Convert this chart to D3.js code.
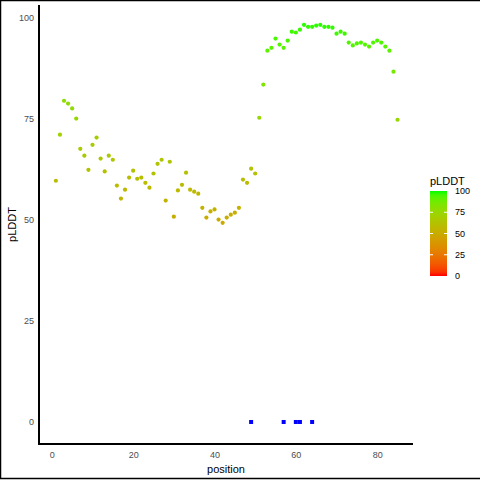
<!DOCTYPE html>
<html>
<head>
<meta charset="utf-8">
<script src="https://cdn.jsdelivr.net/npm/d3@7"></script>
<style>
  body { margin: 0; background: #fff; }
  text { font-family: "Liberation Sans", Arial, sans-serif; }
</style>
</head>
<body>
<div id="graph"></div>
<script>
// pLDDT per residue position (1..85)
var plddt = [
  59.7, 71.1, 79.5, 78.8, 77.6, 75.1, 67.6, 65.9, 62.4, 68.6,
  70.4, 65.2, 62.0, 65.9, 64.9, 58.5, 55.3, 57.5, 60.5, 62.2,
  60.2, 60.5, 59.2, 58.0, 61.5, 63.9, 64.9, 54.8, 64.4, 50.8,
  57.3, 58.7, 61.7, 57.5, 57.0, 56.5, 53.0, 50.6, 52.1, 52.6,
  50.1, 49.3, 50.6, 51.3, 51.8, 53.0, 60.0, 59.2, 62.7, 61.5,
  75.3, 83.5, 91.9, 92.6, 94.9, 93.4, 92.6, 94.4, 96.6, 96.4,
  97.1, 98.3, 97.8, 97.8, 98.1, 98.3, 97.8, 97.8, 97.6, 96.1,
  96.6, 96.1, 93.9, 93.2, 93.7, 93.9, 93.4, 92.9, 93.9, 94.4,
  93.9, 92.9, 91.9, 86.7, 74.8
];
// marked positions drawn as blue squares at 0
var marked = [49, 57, 60, 61, 64];

var xTicks = [0, 20, 40, 60, 80];
var yTicks = [0, 25, 50, 75, 100];
var legendTicks = [0, 25, 50, 75, 100];

var W = 480, H = 480;
var panel = {left: 39, right: 413, top: 5, bottom: 444};

var dataset = plddt.map(function(v, i) { return {pos: i + 1, val: v}; });

var xScale = d3.scaleLinear().domain([-3.15, 88.8]).range([panel.left, panel.right]);
var yScale = d3.scaleLinear().domain([-5.45, 103.2]).range([panel.bottom, panel.top]);
var color = d3.scaleLinear().domain([0, 100]).range(["#ff0000", "#00ff00"]).interpolate(d3.interpolateLab);

var svg = d3.select("#graph").append("svg")
  .attr("width", W).attr("height", H);

svg.append("rect").attr("width", W).attr("height", H).attr("fill", "#fff");

// outer border
svg.append("rect")
  .attr("x", 0.5).attr("y", 0.5)
  .attr("width", W + 5).attr("height", H - 2)
  .attr("fill", "none").attr("stroke", "#000").attr("stroke-width", 1.5);

// axes (no tick marks)
var xAxis = svg.append("g")
  .attr("transform", "translate(0," + (panel.bottom + 3) + ")")
  .call(d3.axisBottom(xScale).tickValues(xTicks).tickSize(0).tickPadding(5));
var yAxis = svg.append("g")
  .attr("transform", "translate(" + (panel.left - 3) + ",0)")
  .call(d3.axisLeft(yScale).tickValues(yTicks).tickSize(0).tickPadding(2));
[xAxis, yAxis].forEach(function(a) {
  a.select(".domain").remove();
  a.selectAll("text").attr("fill", "#4d4d4d").style("font-size", "9px");
});

svg.append("line")
  .attr("x1", panel.left).attr("x2", panel.left)
  .attr("y1", panel.top).attr("y2", panel.bottom + 1)
  .attr("stroke", "#000").attr("stroke-width", 2);
svg.append("line")
  .attr("x1", panel.left - 1).attr("x2", panel.right)
  .attr("y1", panel.bottom).attr("y2", panel.bottom)
  .attr("stroke", "#000").attr("stroke-width", 2);

// axis titles
svg.append("text")
  .attr("x", (panel.left + panel.right) / 2).attr("y", 473)
  .attr("text-anchor", "middle").style("font-size", "11px")
  .text("position");
svg.append("text")
  .attr("transform", "translate(16," + ((panel.top + panel.bottom) / 2) + ") rotate(-90)")
  .attr("text-anchor", "middle").style("font-size", "11px")
  .text("pLDDT");

// points
svg.selectAll(".dot")
  .data(dataset)
  .enter().append("circle")
  .attr("class", "dot")
  .attr("cx", function(d) { return xScale(d.pos); })
  .attr("cy", function(d) { return yScale(d.val); })
  .attr("r", 2.1)
  .attr("fill", function(d) { return color(d.val); });

// marked positions
svg.selectAll(".mark")
  .data(marked)
  .enter().append("rect")
  .attr("class", "mark")
  .attr("x", function(d) { return xScale(d) - 2; })
  .attr("y", yScale(0) - 2)
  .attr("width", 4).attr("height", 4)
  .attr("fill", "#0000ff");

// legend
var leg = {x: 430, top: 191, bottom: 276, w: 17};
var lScale = d3.scaleLinear().domain([0, 100]).range([leg.bottom, leg.top]);
var defs = svg.append("defs");
var grad = defs.append("linearGradient").attr("id", "lg")
  .attr("x1", 0).attr("y1", 1).attr("x2", 0).attr("y2", 0);
d3.range(0, 101, 5).forEach(function(v) {
  grad.append("stop").attr("offset", v / 100).attr("stop-color", color(v));
});
svg.append("rect")
  .attr("x", leg.x).attr("y", leg.top)
  .attr("width", leg.w).attr("height", leg.bottom - leg.top)
  .attr("fill", "url(#lg)");
legendTicks.slice(1, -1).forEach(function(t) {
  svg.append("line").attr("x1", leg.x).attr("x2", leg.x + 3)
    .attr("y1", lScale(t)).attr("y2", lScale(t)).attr("stroke", "#fff");
  svg.append("line").attr("x1", leg.x + leg.w - 3).attr("x2", leg.x + leg.w)
    .attr("y1", lScale(t)).attr("y2", lScale(t)).attr("stroke", "#fff");
});
svg.selectAll(".ltick")
  .data(legendTicks)
  .enter().append("text")
  .attr("x", leg.x + leg.w + 8)
  .attr("y", function(d) { return lScale(d); })
  .attr("dy", "0.35em")
  .attr("fill", "#000").style("font-size", "9px")
  .text(function(d) { return d; });
svg.append("text")
  .attr("x", leg.x).attr("y", 185)
  .style("font-size", "11px")
  .text("pLDDT");
</script>
</body>
</html>
